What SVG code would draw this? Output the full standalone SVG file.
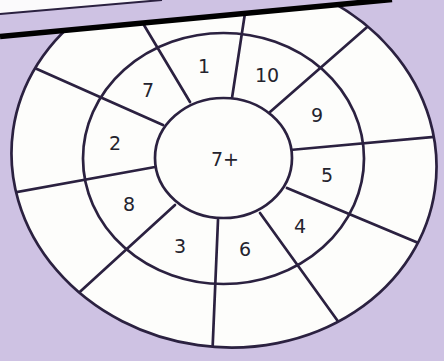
<svg xmlns="http://www.w3.org/2000/svg" width="444" height="361" viewBox="0 0 444 361">
<style>
.ln{fill:none;stroke:#2b2140;stroke-width:2.7;stroke-linecap:round}
.wf{fill:#fdfdfb;stroke:#2b2140;stroke-width:2.7}
.lb{font-family:"DejaVu Sans",Verdana,sans-serif;font-size:19px;fill:#24232e;text-anchor:middle}
</style>
<defs>
<clipPath id="outerClip">
<ellipse cx="224" cy="160" rx="213" ry="187" transform="rotate(8 224 160)"/>
</clipPath>
</defs>
<rect width="444" height="361" fill="#cec2e3"/>
<g id="outer-ring">
<ellipse class="wf" cx="224" cy="160" rx="213" ry="187" transform="rotate(8 224 160)"/>
</g>
<g id="connectors" clip-path="url(#outerClip)">
<line class="ln" x1="190" y1="102" x2="129" y2="0"/>
<line class="ln" x1="232" y1="98" x2="247" y2="0"/>
<line class="ln" x1="270" y1="112" x2="390" y2="7"/>
<line class="ln" x1="290" y1="150" x2="445" y2="136"/>
<line class="ln" x1="287" y1="188" x2="440" y2="252"/>
<line class="ln" x1="260" y1="213" x2="350" y2="338"/>
<line class="ln" x1="218" y1="220" x2="212" y2="362"/>
<line class="ln" x1="175" y1="205" x2="60" y2="310"/>
<line class="ln" x1="155" y1="167" x2="0" y2="195"/>
<line class="ln" x1="163" y1="125" x2="10" y2="57"/>
</g>
<g id="middle-ring">
<ellipse class="ln" cx="223.5" cy="158.5" rx="140.5" ry="125.5"/>
</g>
<g id="center">
<ellipse class="wf" cx="223.5" cy="158" rx="68.5" ry="60"/>
<text class="lb" x="225" y="166">7+</text>
</g>
<g id="n1"><text class="lb" x="204" y="73">1</text></g>
<g id="n10"><text class="lb" x="267" y="82">10</text></g>
<g id="n7"><text class="lb" x="148" y="97">7</text></g>
<g id="n9"><text class="lb" x="317" y="122">9</text></g>
<g id="n2"><text class="lb" x="115" y="150">2</text></g>
<g id="n5"><text class="lb" x="327" y="182">5</text></g>
<g id="n8"><text class="lb" x="129" y="211">8</text></g>
<g id="n4"><text class="lb" x="300" y="233">4</text></g>
<g id="n3"><text class="lb" x="180" y="253">3</text></g>
<g id="n6"><text class="lb" x="245" y="256">6</text></g>
<g id="paper-edge">
<polygon points="0,0 392,0 0,37" fill="#cec2e3"/>
<polygon points="0,0 162,0 0,14" fill="#fbfafc"/>
<line x1="0" y1="14" x2="162" y2="0" stroke="#2b2140" stroke-width="2"/>
<line x1="0" y1="36.5" x2="392" y2="-0.5" stroke="#000" stroke-width="5.5"/>
</g>
</svg>
